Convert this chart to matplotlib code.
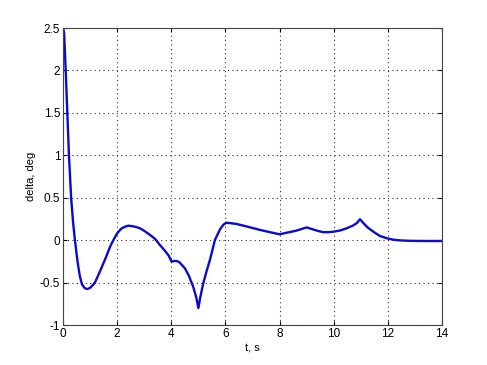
import matplotlib.pyplot as plt
import numpy as np

t = [0, 0.04, 0.1, 0.16, 0.22, 0.3, 0.37, 0.44, 0.54, 0.62, 0.7, 0.8, 0.9, 1.0,
     1.1, 1.18, 1.35, 1.55, 1.75, 1.86, 2.0, 2.15, 2.3, 2.41, 2.55, 2.7, 2.84, 3.0,
     3.2, 3.4, 3.58, 3.75, 3.9, 4.01, 4.1, 4.2, 4.3, 4.5, 4.65, 4.81, 4.92, 5.0,
     5.08, 5.18, 5.3, 5.43, 5.61, 5.8, 5.92, 6.02, 6.2, 6.42, 6.8, 7.28, 7.7, 8.0,
     8.3, 8.6, 9.0, 9.2, 9.4, 9.62, 9.85, 10.0, 10.25, 10.48, 10.7, 10.85, 10.97,
     11.1, 11.25, 11.46, 11.7, 11.96, 12.2, 12.45, 12.8, 13.3, 14.0]
delta = [2.5, 2.45, 2.0, 1.5, 1.0, 0.5, 0.22, 0.0, -0.26, -0.42, -0.52, -0.565,
         -0.577, -0.562, -0.53, -0.5, -0.38, -0.23, -0.07, 0.0, 0.08, 0.135, 0.16,
         0.17, 0.165, 0.155, 0.14, 0.11, 0.065, 0.015, -0.057, -0.12, -0.18, -0.254,
         -0.245, -0.246, -0.26, -0.33, -0.42, -0.55, -0.67, -0.80, -0.66, -0.51,
         -0.37, -0.23, 0.0, 0.128, 0.18, 0.205, 0.2, 0.19, 0.16, 0.12, 0.09, 0.069,
         0.09, 0.11, 0.15, 0.13, 0.11, 0.093, 0.095, 0.1, 0.115, 0.14, 0.17, 0.2,
         0.246, 0.2, 0.15, 0.10, 0.05, 0.022, 0.005, -0.003, -0.008, -0.01, -0.01]

plt.rcParams['font.family'] = ['Liberation Sans', 'DejaVu Sans']
fig = plt.figure(figsize=(4.87, 3.65), dpi=100)
ax = fig.add_axes([63 / 487, 1 - 325 / 365, (442 - 63) / 487, (325 - 28) / 365])

ax.plot(t, delta, color='#0a0ad0', lw=1.7)
ax.set_xlim(0, 14)
ax.set_ylim(-1, 2.5)
ax.set_xticks(np.arange(0, 15, 2))
ax.set_yticks(np.arange(-1, 2.6, 0.5))
ax.set_yticklabels(['-1', '-0.5', '0', '0.5', '1', '1.5', '2', '2.5'])
ax.grid(True, color='#333333', linestyle=(0, (1, 3)), lw=0.8)
ax.tick_params(direction='in', labelsize=8.5, length=3, top=True, right=True, pad=2)
for s in ax.spines.values():
    s.set_color('#444444')
ax.set_xlabel('t, s', fontsize=8, labelpad=3)
ax.set_ylabel('delta, deg', fontsize=8, labelpad=3)

fig.savefig('out.png', dpi=100)
